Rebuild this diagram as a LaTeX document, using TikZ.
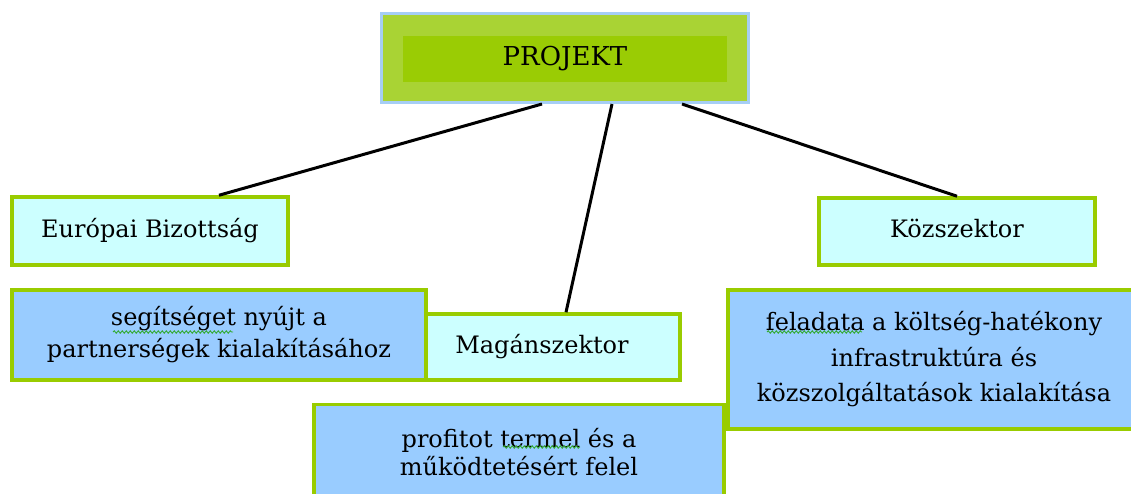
\documentclass[tikz,border=0pt]{standalone}
\usepackage{fontspec}
\usetikzlibrary{decorations.pathmorphing}
\setmainfont{DejaVu Serif}
\definecolor{leafgreen}{HTML}{99CC00}
\definecolor{projlight}{HTML}{A9D334}
\definecolor{projdark}{HTML}{9ACC04}
\definecolor{projrim}{HTML}{A6CEF5}
\definecolor{cyanpale}{HTML}{CCFFFF}
\definecolor{skyblue}{HTML}{99CCFF}
\definecolor{spellgreen}{HTML}{33AA33}
\tikzset{
  boxbase/.style={rectangle, draw=leafgreen, line width=3.5pt, inner sep=0pt,
    align=center, text=black, font=\fontsize{24}{32}\selectfont},
  role/.style={boxbase, fill=cyanpale, text height=18.2pt, text depth=5.6pt},
  task/.style={boxbase, fill=skyblue},
  projframe/.style={rectangle, draw=projrim, line width=3pt, fill=projlight, inner sep=0pt},
  projcore/.style={rectangle, fill=projdark, inner sep=0pt, font=\fontsize{26}{30}\selectfont},
  link/.style={draw=black, line width=3pt},
  squiggle/.style={draw=spellgreen, line width=0.9pt,
    decorate, decoration={snake, amplitude=1.2pt, segment length=4pt}}
}
\begin{document}
\begin{tikzpicture}[x=1pt,y=-1pt]
\useasboundingbox (0,0) rectangle (1131,493);
\clip (0,0) rectangle (1131,493);

% top node
\node[projframe, minimum width=367pt, minimum height=89pt] (proj) at (565,58) {};
\node[projcore, minimum width=324pt, minimum height=46pt] (projcore) at (565,58.5) {PROJEKT};

% the three partners
\node[role, minimum width=276pt, minimum height=68pt] (eu) at (150,231) {Európai Bizottság};
\node[role, minimum width=276pt, minimum height=67pt] (koz) at (957,231.5) {Közszektor};
\node[role, minimum width=276pt, minimum height=66pt] (magan) at (542,347) {Magánszektor};

% their tasks
\node[task, minimum width=414pt, minimum height=90pt] (seg) at (219,335)
  {segítséget nyújt a\\partnerségek kialakításához};
\node[task, minimum width=410pt, minimum height=95pt, font=\fontsize{24}{28}\selectfont] (prof) at (519,452)
  {profitot termel és a\\működtetésért felel};
\node[task, minimum width=412pt, minimum height=139pt, font=\fontsize{24}{35.5}\selectfont] (fel) at (934,359.5)
  {feladata a költség-hatékony\\infrastruktúra és\\közszolgáltatások kialakítása};

% spelling marks under three words
\path[squiggle] (113,332) -- (233,332);
\path[squiggle] (503,447) -- (580,447);
\path[squiggle] (767,332) -- (862,332);

% connectors from the project to the partners
\coordinate (s1) at ([xshift=-23pt]proj.south);
\coordinate (s2) at ([xshift=47pt]proj.south);
\coordinate (s3) at ([xshift=117pt]proj.south);
\coordinate (e1) at ([xshift=69pt]eu.north);
\coordinate (e2) at ([xshift=24pt]magan.north);
\draw[link] (s1) -- (e1);
\draw[link] (s2) -- (e2);
\draw[link] (s3) -- (koz.north);
\end{tikzpicture}
\end{document}
